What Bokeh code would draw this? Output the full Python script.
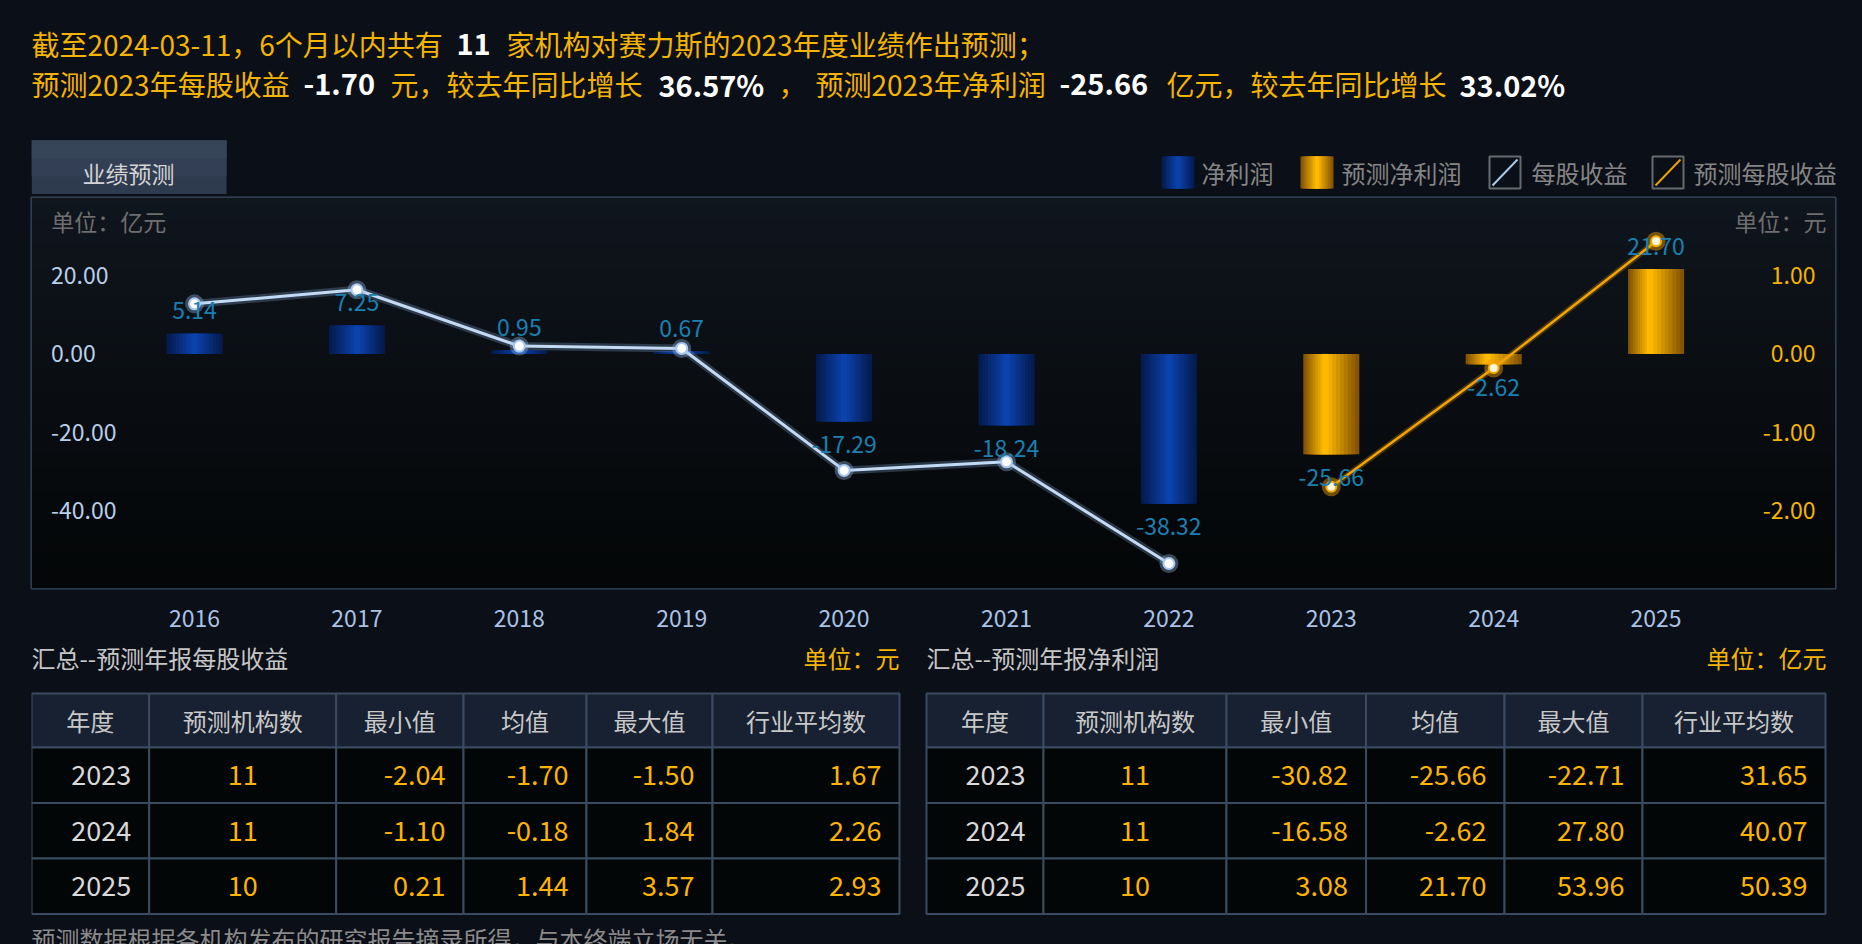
import numpy as np
from bokeh.plotting import figure
from bokeh.layouts import column
from bokeh.models import (Range1d, LinearAxis, FixedTicker, NumeralTickFormatter,
                          Grid, ColumnDataSource, Label)
from bokeh.transform import dodge
from bokeh.core.properties import value
from bokeh.embed import file_html
from bokeh.resources import INLINE

# ---------------- data ----------------
years = [2016, 2017, 2018, 2019, 2020, 2021, 2022, 2023, 2024, 2025]
actual_years = [2016, 2017, 2018, 2019, 2020, 2021, 2022]
forecast_years = [2023, 2024, 2025]
net_profit_actual = [5.14, 7.25, 0.95, 0.67, -17.29, -18.24, -38.32]
net_profit_forecast = [-25.66, -2.62, 21.70]
eps_actual = [0.64, 0.82, 0.10, 0.07, -1.49, -1.38, -2.68]
eps_forecast = [-1.70, -0.18, 1.44]
left_ticks = [20, 0, -20, -40]
right_ticks = [1, 0, -1, -2]
left_range = (-60, 40)
right_range = (-3, 2)

as_of_date = "2024-03-11"
n_institutions = 11
company = "赛力斯"
forecast_year = 2023
eps_2023 = -1.70
eps_yoy = 36.57
np_2023 = -25.66
np_yoy = 33.02

table_years = [2023, 2024, 2025]
table_headers = ["年度", "预测机构数", "最小值", "均值", "最大值", "行业平均数"]
eps_count = [11, 11, 10]
eps_min = [-2.04, -1.10, 0.21]
eps_mean = [-1.70, -0.18, 1.44]
eps_max = [-1.50, 1.84, 3.57]
eps_industry = [1.67, 2.26, 2.93]
np_count = [11, 11, 10]
np_min = [-30.82, -16.58, 3.08]
np_mean = [-25.66, -2.62, 21.70]
np_max = [-22.71, 27.80, 53.96]
np_industry = [31.65, 40.07, 50.39]

# ---------------- style / layout ----------------
FONT_NAME = "Noto Sans CJK SC"
FONT = value(FONT_NAME)
BG = "#0b0f17"
ORANGE = "#f5b400"
W = 1862
HA, HB, HC = 194, 446, 304
ML, MR = 31, 27                  # panel left / right margins (px)
FX0, FX1 = ML, W - MR            # frame extent in page px


def deco_fig(h, y0):
    f = figure(width=W, height=h, x_range=Range1d(FX0, FX1), y_range=Range1d(y0 + h, y0),
               output_backend="svg", toolbar_location=None, title=None,
               x_axis_location=None, y_axis_location=None,
               min_border_left=ML, min_border_right=MR, min_border_top=0, min_border_bottom=0,
               background_fill_color=BG, border_fill_color=BG, outline_line_color=None)
    f.grid.visible = False
    return f


def ramp(edge, center, n):
    e = np.array(edge, dtype=float)
    c = np.array(center, dtype=float)
    out = []
    for k in range(n):
        t = k / (n - 1)
        r, g, b = (e + (c - e) * t).astype(int)
        out.append("#%02x%02x%02x" % (r, g, b))
    return out


NL = 9
FRACS = [1.0 - k / NL for k in range(NL)]
BLUE_COLS = ramp((5, 28, 80), (12, 66, 172), NL)
ORANGE_COLS = ramp((132, 84, 4), (255, 186, 0), NL)

# ================= header figure =================
fa = deco_fig(HA, 0)

l1, l2 = 43, 83
fa.text(x=[31, 506], y=[l1, l1],
        text=[f"截至{as_of_date}，6个月以内共有", f"家机构对{company}的{forecast_year}年度业绩作出预测；"],
        text_font=FONT, text_font_size="28px", text_color=ORANGE,
        text_baseline="middle", text_align="left")
fa.text(x=[31, 390, 778, 815, 1166], y=[l2] * 5,
        text=[f"预测{forecast_year}年每股收益", "元，较去年同比增长", "，",
              f"预测{forecast_year}年净利润", "亿元，较去年同比增长"],
        text_font=FONT, text_font_size="28px", text_color=ORANGE,
        text_baseline="middle", text_align="left")
fa.text(x=[456, 303, 658, 1059, 1459], y=[l1, l2, l2, l2, l2],
        text=[str(n_institutions), f"{eps_2023:.2f}", f"{eps_yoy:.2f}%",
              f"{np_2023:.2f}", f"{np_yoy:.2f}%"],
        text_font=FONT, text_font_size="29px", text_color="white", text_font_style="bold",
        text_baseline="middle", text_align="left")

# tab
fa.quad(left=[31], right=[226], top=[140], bottom=[194], fill_color="#2e3b4f", line_color=None)
fa.quad(left=[31], right=[226], top=[140], bottom=[176], fill_color="#323f54", line_color=None)
fa.quad(left=[31], right=[226], top=[140], bottom=[158], fill_color="#374559", line_color=None)
fa.text(x=[128], y=[172], text=["业绩预测"], text_font=FONT, text_font_size="23px",
        text_color="#d4d4d4", text_align="center", text_baseline="middle")


def grad_square(fig, left, right, top, bottom, cols):
    w = right - left
    c = (left + right) / 2
    for frac, col in zip(FRACS, cols):
        fig.quad(left=[c - w * frac / 2], right=[c + w * frac / 2], top=[top], bottom=[bottom],
                 fill_color=col, line_color=None)


grad_square(fa, 1161, 1194, 156, 188, BLUE_COLS)
grad_square(fa, 1300, 1333, 156, 188, ORANGE_COLS)
for left, col in [(1489, "#a8c8ec"), (1652, "#f0a000")]:
    fa.quad(left=[left], right=[left + 31], top=[156], bottom=[188], fill_color=None,
            line_color="#666a70", line_width=2)
    fa.segment(x0=[left + 3], y0=[185], x1=[left + 28], y1=[159], line_color=col, line_width=2)
fa.text(x=[1201, 1341, 1531, 1693], y=[172] * 4,
        text=["净利润", "预测净利润", "每股收益", "预测每股收益"],
        text_font=FONT, text_font_size="24px", text_color="#858585",
        text_baseline="middle", text_align="left")

# ================= chart figure =================
band = 162.4           # px per category
mt, mb = 3, 52
frame_w = FX1 - FX0
frame_h = HB - mt - mb
x_start = -(194 - FX0) / band
x_end = x_start + frame_w / band
px_per_unit = frame_h / (left_range[1] - left_range[0])

fb = figure(width=W, height=HB, x_range=Range1d(x_start, x_end),
            y_range=Range1d(*left_range), output_backend="svg", toolbar_location=None,
            title=None, y_axis_location=None, x_axis_location="below",
            min_border_left=ML, min_border_right=MR, min_border_top=mt, min_border_bottom=mb,
            background_fill_color="#0a0e13", border_fill_color=BG,
            outline_line_color="#3b4c62", outline_line_width=2)
fb.extra_y_ranges = {"eps": Range1d(*right_range)}
fb.xgrid.visible = False

# panel gradient background
n = 64
top_c = np.array([16, 22, 30], dtype=float)
bot_c = np.array([4, 6, 7], dtype=float)
t = np.linspace(0, 1, n)
img = np.zeros((n, 1), dtype=np.uint32)
view = img.view(dtype=np.uint8).reshape((n, 1, 4))
for k in range(3):
    view[:, 0, k] = (bot_c[k] + (top_c[k] - bot_c[k]) * t).astype(np.uint8)
view[:, 0, 3] = 255
fb.image_rgba(image=[img], x=x_start, y=left_range[0], dw=x_end - x_start,
              dh=left_range[1] - left_range[0])

fb.add_layout(Grid(dimension=1, ticker=FixedTicker(ticks=left_ticks),
                   grid_line_color="#1c1f23", grid_line_width=2))

x_actual = [years.index(y) for y in actual_years]
x_fore = [years.index(y) for y in forecast_years]
src_a = ColumnDataSource(dict(x=x_actual, v=net_profit_actual, e=eps_actual))
src_f = ColumnDataSource(dict(x=x_fore, v=net_profit_forecast, e=eps_forecast))

bw = 56 / band
for frac, col in zip(FRACS, BLUE_COLS):
    fb.vbar(x="x", top="v", bottom=0, width=bw * frac, source=src_a, fill_color=col, line_color=None)
for k, (frac, col) in enumerate(zip(FRACS, ORANGE_COLS)):
    shift = -0.12 * bw * (1 - frac)
    fb.vbar(x=dodge("x", shift), top="v", bottom=0, width=bw * frac, source=src_f,
            fill_color=col, line_color=None)

# EPS lines
fb.line(x="x", y="e", source=src_a, y_range_name="eps", line_color="#8fb8e8", line_width=8, line_alpha=0.25)
fb.line(x="x", y="e", source=src_a, y_range_name="eps", line_color="#c2daf4", line_width=3)
fb.scatter(x="x", y="e", source=src_a, y_range_name="eps", size=19, fill_color="#9cc4f0",
           fill_alpha=0.35, line_color=None)
fb.scatter(x="x", y="e", source=src_a, y_range_name="eps", size=11, fill_color="white",
           line_color="#a8c8f0", line_width=2)
fb.line(x="x", y="e", source=src_f, y_range_name="eps", line_color="#f0a000", line_width=6, line_alpha=0.25)
fb.line(x="x", y="e", source=src_f, y_range_name="eps", line_color="#f5a300", line_width=2.5)
fb.scatter(x="x", y="e", source=src_f, y_range_name="eps", size=19, fill_color="#f0a000",
           fill_alpha=0.45, line_color=None)
fb.scatter(x="x", y="e", source=src_f, y_range_name="eps", size=10, fill_color="#fff6dc",
           line_color="#f5a800", line_width=2)

# bar value labels
all_x = x_actual + x_fore
all_v = net_profit_actual + net_profit_forecast
lab = ColumnDataSource(dict(x=all_x, y=all_v, text=[f"{v:.2f}" for v in all_v],
                            off=[-23 if v >= 0 else 23 for v in all_v]))
fb.text(x="x", y="y", text="text", y_offset="off", source=lab, text_align="center",
        text_baseline="middle", text_color="#1a80b2", text_font=FONT, text_font_size="23px")

# x axis (years)
xa = fb.xaxis[0]
xa.ticker = FixedTicker(ticks=all_x)
xa.major_label_overrides = {i: str(y) for i, y in zip(range(len(years)), years)}
xa.axis_line_color = None
xa.major_tick_line_color = None
xa.minor_tick_line_color = None
xa.major_tick_out = 0
xa.major_label_standoff = 21
xa.major_label_text_color = "#a9c3e6"
xa.major_label_text_font_size = "23px"
xa.major_label_text_font = FONT_NAME

common = dict(axis_line_color=None, major_tick_line_color=None, minor_tick_line_color=None,
              major_tick_out=0, major_tick_in=0, major_label_standoff=0,
              major_label_text_font_size="23px", major_label_text_font=FONT_NAME,
              formatter=NumeralTickFormatter(format="0.00"))
la = LinearAxis(ticker=FixedTicker(ticks=left_ticks), fixed_location=x_start + 19.5 / band,
                major_label_text_color="#b8cfea", **common)
fb.add_layout(la, "right")
ra = LinearAxis(y_range_name="eps", ticker=FixedTicker(ticks=right_ticks),
                fixed_location=x_start + (1815 - FX0) / band, major_label_text_color=ORANGE, **common)
fb.add_layout(ra, "left")

unit_y = left_range[1] - 23.7 / px_per_unit
fb.add_layout(Label(x=x_start + 19.7 / band, y=unit_y, text="单位：亿元", text_font=FONT_NAME,
                    text_font_size="23px", text_color="#6e6e6e", text_baseline="middle",
                    text_align="left"))
fb.add_layout(Label(x=x_start + (1826 - FX0) / band, y=unit_y, text="单位：元", text_font=FONT_NAME,
                    text_font_size="23px", text_color="#6e6e6e", text_baseline="middle",
                    text_align="right"))

# ================= tables figure =================
Y0C = HA + HB
fc = deco_fig(HC, Y0C)

title_y = 657
fc.text(x=[31, 926], y=[title_y] * 2, text=["汇总--预测年报每股收益", "汇总--预测年报净利润"],
        text_font=FONT, text_font_size="24px", text_color="#c6c6c6",
        text_baseline="middle", text_align="left")
fc.text(x=[899, 1826], y=[title_y] * 2, text=["单位：元", "单位：亿元"],
        text_font=FONT, text_font_size="24px", text_color=ORANGE,
        text_baseline="middle", text_align="right")

tbl_top = 693
head_h = 54
row_h = 55.5
pad = 18


def draw_table(edges, cols):
    lefts = edges[:-1]
    rights = edges[1:]
    fc.quad(left=lefts, right=rights, top=[tbl_top] * len(lefts), bottom=[tbl_top + head_h] * len(lefts),
            fill_color="#182131", line_color="#3a4a60", line_width=2)
    centers = [(a + b) / 2 for a, b in zip(lefts, rights)]
    fc.text(x=centers, y=[tbl_top + head_h / 2] * len(centers), text=table_headers,
            text_font=FONT, text_font_size="24px", text_color="#c8c8c8",
            text_align="center", text_baseline="middle")
    for r in range(len(table_years)):
        t0 = tbl_top + head_h + r * row_h
        fc.quad(left=lefts, right=rights, top=[t0] * len(lefts), bottom=[t0 + row_h] * len(lefts),
                fill_color="#030607", line_color="#3a4a60", line_width=2)
        ym = t0 + row_h / 2
        fc.text(x=[rights[0] - pad], y=[ym], text=[str(table_years[r])], text_font=FONT,
                text_font_size="27px", text_color="#d9d9d9", text_align="right",
                text_baseline="middle")
        fc.text(x=[centers[1]], y=[ym], text=[str(cols[0][r])], text_font=FONT,
                text_font_size="27px", text_color="#ffb400", text_align="center",
                text_baseline="middle")
        fc.text(x=[rr - pad for rr in rights[2:]], y=[ym] * 4,
                text=[f"{c[r]:.2f}" for c in cols[1:]], text_font=FONT,
                text_font_size="27px", text_color="#ffb400", text_align="right",
                text_baseline="middle")


draw_table([31, 148.7, 335.7, 463, 586, 712, 899],
           [eps_count, eps_min, eps_mean, eps_max, eps_industry])
draw_table([926, 1043, 1226, 1365.5, 1504, 1642, 1825],
           [np_count, np_min, np_mean, np_max, np_industry])

fc.text(x=[31], y=[938], text=["预测数据根据各机构发布的研究报告摘录所得，与本终端立场无关。"],
        text_font=FONT, text_font_size="24px", text_color="#8a8a8a",
        text_baseline="middle", text_align="left")

layout = column(fa, fb, fc, spacing=0)
html = file_html(layout, INLINE, title="业绩预测")
html = html.replace("<head>", "<head><style>html,body{margin:0;padding:0;background:%s;overflow:hidden;}</style>" % BG, 1)
open("out.html", "w").write(html)
